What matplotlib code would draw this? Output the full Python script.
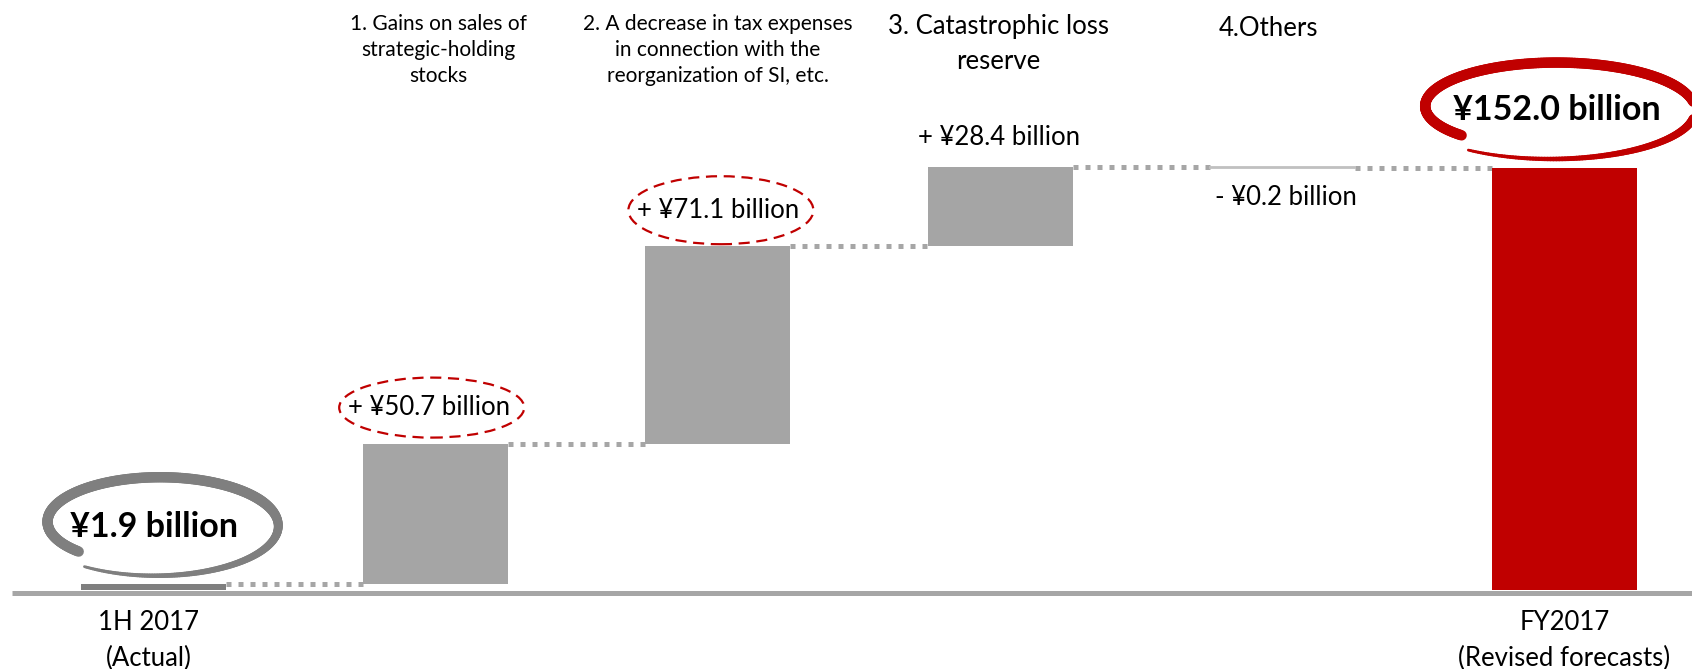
import numpy as np
import matplotlib.pyplot as plt
from matplotlib.patches import Ellipse
from matplotlib.collections import LineCollection

plt.rcParams['font.family'] = ['Lato', 'DejaVu Sans']

# waterfall data (¥ billion)
values = [1.9, 50.7, 71.1, 28.4, -0.2, 152.0]
value_labels = ['¥1.9 billion', '+ ¥50.7 billion', '+ ¥71.1 billion',
                '+ ¥28.4 billion', '- ¥0.2 billion', '¥152.0 billion']
header_labels = ['', '1. Gains on sales of\nstrategic-holding\nstocks',
                 '2. A decrease in tax expenses\nin connection with the\nreorganization of SI, etc.',
                 '3. Catastrophic loss\nreserve', '4.Others', '']
bottom_labels = ['1H 2017\n(Actual)', '', '', '', '', 'FY2017\n(Revised forecasts)']

W, H = 1692, 669
fig = plt.figure(figsize=(W / 100, H / 100), dpi=100)
ax = fig.add_axes([0, 0, 1, 1])
x0, x1 = -0.544, 5.452
y0, y1 = -28.6, 212.4
ax.set_xlim(x0, x1)
ax.set_ylim(y0, y1)
ax.axis('off')
sx = W / (x1 - x0)
sy = H / (y1 - y0)


def py(p):
    # pixel row from top -> data y
    return y1 - p / sy


n = len(values)
xs = np.arange(n)
bottoms = []
running = 0
for i, v in enumerate(values):
    if i == 0 or i == n - 1:
        bottoms.append(0)
        running = v if i == 0 else running
    else:
        bottoms.append(running)
        running += v
tops = [b + v for b, v in zip(bottoms, values)]

bw = 0.514
colors = ['#7f7f7f', '#a5a5a5', '#a5a5a5', '#a5a5a5', '#c8c8c8', '#c00000']

# baseline
ax.plot([-0.5, x1], [-1.26, -1.26], color='#a6a6a6', lw=3.6, solid_capstyle='butt', zorder=1)

for i in range(n):
    ec = '#c0c0c0' if values[i] < 0 else 'none'
    ax.bar(xs[i], values[i], bottom=bottoms[i], width=bw, color=colors[i],
           edgecolor=ec, linewidth=1.3, zorder=2)

# dotted connectors
for i in range(n - 1):
    ax.plot([xs[i] + bw / 2, xs[i + 1] - bw / 2], [tops[i], tops[i]], color='#a6a6a6',
            lw=3.6, linestyle=(0, (1, 1.4)), zorder=1)

# value labels
dx_px = [0, -7, 0, -1, 4, -8]
dy_px = [57, 36, 36, 30, -30, 58]
for i in range(n):
    anchor = max(bottoms[i], tops[i]) if values[i] > 0 else min(bottoms[i], tops[i])
    tx = xs[i] + dx_px[i] / sx
    ty = anchor + dy_px[i] / sy
    bold = i in (0, n - 1)
    ax.text(tx, ty, value_labels[i], ha='center', va='center',
            fontsize=24.5 if bold else 18.5, fontweight='bold' if bold else 'normal',
            color='black', zorder=5)
    if i in (1, 2):
        h = 60 if i == 1 else 68
        ax.add_patch(Ellipse((tx + 3 / sx, ty), 185 / sx, h / sy, fill=False,
                             edgecolor='#c00000', lw=1.6, linestyle=(0, (5, 3)), zorder=4))


def ring(cx, cy, a, b, color):
    t = np.linspace(0, 1, 300)
    th = np.radians(235 + 345 * t)
    s = 1.05 - 0.2 * t ** 3
    px_ = cx + a * s * np.cos(th) / sx
    py_ = cy + b * s * np.sin(th) / sy
    pts = np.column_stack([px_, py_]).reshape(-1, 1, 2)
    segs = np.concatenate([pts[:-1], pts[1:]], axis=1)
    w = 2.0 + 5.5 * np.clip(t[:-1] / 0.45, 0, 1)
    lc = LineCollection(segs, linewidths=w, colors=color, capstyle='round', zorder=3)
    ax.add_collection(lc)


ring(xs[0] + 2 / sx, tops[0] + 59 / sy, 118, 48, '#7f7f7f')
ring(xs[-1] - 13 / sx, tops[-1] + 58 / sy, 138, 47, '#c00000')

# category headers
hx_px = [0, 2.5, 0, -2, -14, 0]
hy_px = [0, 50, 50, 44, 28, 0]
hsize = [0, 15, 15, 18.5, 18.5, 0]
hspace = [1, 1.38, 1.38, 1.5, 1, 1]
for i in range(n):
    if header_labels[i]:
        ax.text(xs[i] + hx_px[i] / sx, py(hy_px[i]), header_labels[i], ha='center', va='center',
                fontsize=hsize[i], linespacing=hspace[i], color='black')

for i in range(n):
    if bottom_labels[i]:
        ax.text(xs[i] - 5 / sx if i == 0 else xs[i], py(640.5), bottom_labels[i], ha='center',
                va='center', fontsize=18.5, linespacing=1.5, color='black')

fig.savefig('out.png', dpi=100)
